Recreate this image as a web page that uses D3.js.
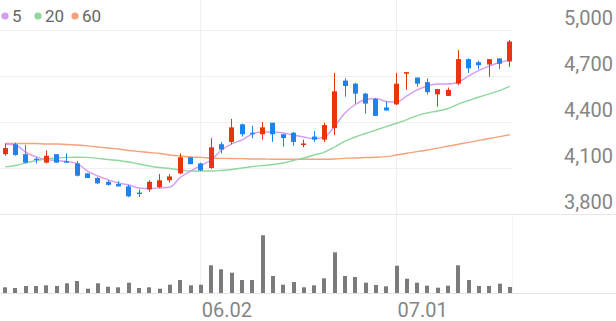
<!DOCTYPE html>
<html>
<head>
<meta charset="utf-8">
<script src="https://cdn.jsdelivr.net/npm/d3@7"></script>
<style>
  body { margin: 0; background: #fff; }
  svg { display: block; font-family: Roboto, sans-serif; }
</style>
</head>
<body>
<svg width="616" height="321"></svg>
<script>
const dates = ['05.02', '05.07', '05.08', '05.09', '05.12', '05.13', '05.14', '05.15', '05.16', '05.19',
  '05.20', '05.21', '05.22', '05.23', '05.26', '05.27', '05.28', '05.29', '05.30', '06.02',
  '06.04', '06.05', '06.09', '06.10', '06.11', '06.12', '06.13', '06.16', '06.17', '06.18',
  '06.19', '06.20', '06.23', '06.24', '06.25', '06.26', '06.27', '06.30', '07.01', '07.02',
  '07.03', '07.04', '07.07', '07.08', '07.09', '07.10', '07.11', '07.14', '07.15', '07.16']

const open = [4190, 4255, 4190, 4160, 4135, 4190, 4145, 4130, 4065, 4035,
  4010, 3995, 3980, 3940, 3960, 3975, 4020, 4065, 4170, 4130,
  4100, 4255, 4270, 4385, 4330, 4320, 4395, 4320, 4330, 4250,
  4305, 4285, 4360, 4670, 4650, 4585, 4550, 4495, 4515, 4715,
  4690, 4660, 4580, 4570, 4650, 4810, 4790, 4775, 4815, 4795]
const high = [4260, 4265, 4250, 4170, 4215, 4190, 4195, 4145, 4065, 4040,
  4020, 4015, 3990, 3960, 4020, 4060, 4060, 4195, 4170, 4135,
  4295, 4270, 4420, 4390, 4375, 4400, 4395, 4320, 4335, 4285,
  4340, 4395, 4720, 4685, 4655, 4590, 4555, 4535, 4720, 4725,
  4690, 4685, 4615, 4625, 4870, 4815, 4800, 4810, 4815, 4935]
const low = [4180, 4180, 4130, 4130, 4130, 4135, 4135, 4045, 4035, 3995,
  3985, 3980, 3910, 3910, 3945, 3970, 4005, 4060, 4125, 4080,
  4095, 4195, 4255, 4305, 4295, 4285, 4270, 4240, 4245, 4235,
  4270, 4270, 4315, 4565, 4520, 4455, 4440, 4475, 4510, 4610,
  4630, 4580, 4500, 4570, 4640, 4720, 4745, 4695, 4745, 4760]
const close = [4230, 4185, 4135, 4155, 4180, 4135, 4135, 4050, 4035, 4000,
  3990, 3980, 3915, 3930, 4010, 4020, 4045, 4170, 4125, 4085,
  4235, 4220, 4365, 4320, 4320, 4365, 4320, 4295, 4270, 4260,
  4285, 4380, 4600, 4635, 4585, 4520, 4440, 4475, 4650, 4725,
  4650, 4595, 4615, 4610, 4810, 4750, 4770, 4810, 4780, 4925]
const volume = [57, 50, 70, 70, 77, 70, 97, 120, 43, 97,
  63, 57, 103, 50, 57, 43, 83, 130, 77, 83,
  277, 237, 203, 130, 130, 577, 170, 83, 110, 57,
  77, 147, 407, 170, 160, 103, 80, 67, 273, 143,
  103, 73, 53, 73, 277, 130, 70, 70, 93, 60]

const ma5 = [4257, 4250, 4204, 4172, 4155, 4149, 4142, 4129, 4080, 4048,
  4022, 4002, 3989, 3970, 3966, 3970, 3976, 4038, 4080, 4116,
  4152, 4217, 4257, 4283, 4322, 4335, 4335, 4328, 4315, 4302,
  4292, 4302, 4374, 4459, 4514, 4547, 4553, 4534, 4530, 4570,
  4609, 4635, 4648, 4648, 4661, 4700, 4736, 4765, 4788, 4804]
const ma20 = [4107, 4116, 4133, 4149, 4159, 4165, 4169, 4170, 4169, 4163,
  4155, 4149, 4139, 4126, 4113, 4103, 4097, 4087, 4080, 4080,
  4080, 4084, 4090, 4100, 4110, 4116, 4123, 4133, 4149, 4165,
  4185, 4204, 4237, 4276, 4302, 4325, 4348, 4370, 4392, 4416,
  4442, 4459, 4472, 4488, 4517, 4540, 4563, 4583, 4605, 4632]
const ma60 = [4260, 4260, 4260, 4260, 4257, 4257, 4253, 4250, 4244, 4237,
  4230, 4224, 4214, 4208, 4201, 4195, 4185, 4178, 4172, 4169,
  4165, 4163, 4162, 4161, 4159, 4159, 4157, 4157, 4157, 4157,
  4157, 4157, 4159, 4163, 4165, 4168, 4170, 4174, 4185, 4196,
  4207, 4217, 4230, 4242, 4255, 4267, 4280, 4292, 4305, 4317]

const priceTicks = [3800, 4100, 4400, 4700, 5000]
const dateTicks = ['06.02', '07.01']
const maNames = ['5', '20', '60']
const maColors = ['#d59cef', '#8fd89d', '#f6a27b']

const upColor = '#e8350f'
const downColor = '#1e83ef'

const width = 616
const height = 321
const plotRight = 515

const svg = d3.select('svg')

const x = d3.scaleBand()
  .domain(dates)
  .range([0, plotRight])

const cx = d => x(d) + x.bandwidth() / 2

const y = d3.scaleLinear()
  .domain([3800, 5000])
  .range([214, 30])

const yVol = d3.scaleLinear()
  .domain([0, 780])
  .range([293, 215])

// grid
svg.append('g')
  .selectAll('line')
  .data(priceTicks.slice(1))
  .enter().append('line')
  .attr('x1', 0)
  .attr('x2', plotRight - 2)
  .attr('y1', d => Math.round(y(d)) + 0.5)
  .attr('y2', d => Math.round(y(d)) + 0.5)
  .attr('stroke', '#efefef')

svg.append('g')
  .selectAll('line')
  .data(dateTicks)
  .enter().append('line')
  .attr('x1', d => Math.floor(cx(d)) + 0.5)
  .attr('x2', d => Math.floor(cx(d)) + 0.5)
  .attr('y1', 0)
  .attr('y2', 293)
  .attr('stroke', '#efefef')

svg.append('line')
  .attr('x1', plotRight - 2.5).attr('x2', plotRight - 2.5)
  .attr('y1', 215).attr('y2', 293)
  .attr('stroke', '#f3f3f3')

// separator + bottom line
svg.append('line')
  .attr('x1', 0).attr('x2', width)
  .attr('y1', Math.round(y(3800)) + 0.5).attr('y2', Math.round(y(3800)) + 0.5)
  .attr('stroke', '#e6e6e6')

svg.append('line')
  .attr('x1', 0).attr('x2', width)
  .attr('y1', 293.5).attr('y2', 293.5)
  .attr('stroke', '#e3e3e3')

// volume
svg.append('g')
  .selectAll('rect')
  .data(dates)
  .enter().append('rect')
  .attr('x', d => Math.round(cx(d) - 2))
  .attr('width', 4)
  .attr('y', (d, i) => yVol(volume[i]))
  .attr('height', (d, i) => 293 - yVol(volume[i]))
  .attr('fill', '#7b7b7b')

// moving averages
const maSeries = [ma60, ma20, ma5]
const maCols = [maColors[2], maColors[1], maColors[0]]
const line = d3.line()
  .x((d, i) => cx(dates[i]))
  .y(d => y(d))
  .curve(d3.curveMonotoneX)

maSeries.forEach((s, k) => {
  svg.append('path')
    .datum(s)
    .attr('d', line)
    .attr('fill', 'none')
    .attr('stroke', maCols[k])
    .attr('stroke-width', 1.4)
})

// candles
const candle = svg.append('g')
  .selectAll('g')
  .data(dates)
  .enter().append('g')

const colorOf = i => close[i] >= open[i] ? upColor : downColor

candle.append('line')
  .attr('x1', d => Math.round(cx(d) - 2.5) + 2.5)
  .attr('x2', d => Math.round(cx(d) - 2.5) + 2.5)
  .attr('y1', (d, i) => y(high[i]))
  .attr('y2', (d, i) => y(low[i]))
  .attr('stroke', (d, i) => colorOf(i))
  .attr('stroke-width', 1)

candle.append('rect')
  .attr('x', d => Math.round(cx(d) - 2.5))
  .attr('width', 5)
  .attr('y', (d, i) => y(Math.max(open[i], close[i])))
  .attr('height', (d, i) => Math.max(1.2, Math.abs(y(open[i]) - y(close[i]))))
  .attr('fill', (d, i) => colorOf(i))

// price axis on the right
const yAxis = d3.axisRight(y)
  .tickValues(priceTicks)
  .tickFormat(d3.format(','))
  .tickSize(0)

svg.append('g')
  .attr('transform', `translate(${[613, 0]})`)
  .call(yAxis)
  .call(g => g.select('.domain').remove())
  .selectAll('text')
  .attr('x', 0)
  .attr('dy', -6)
  .attr('text-anchor', 'end')
  .attr('fill', '#858585')
  .attr('font-size', 20)
  .attr('font-family', 'Roboto, sans-serif')

// date axis
const xAxis = d3.axisBottom(x)
  .tickValues(dateTicks)
  .tickSize(0)

svg.append('g')
  .attr('transform', `translate(${[0, 293]})`)
  .call(xAxis)
  .call(g => g.select('.domain').remove())
  .selectAll('text')
  .attr('x', 1)
  .attr('y', 24)
  .attr('dy', 0)
  .attr('text-anchor', 'start')
  .attr('fill', '#858585')
  .attr('font-size', 20)
  .attr('font-family', 'Roboto, sans-serif')

// legend
const legendX = [5, 38, 75]
const legend = svg.append('g')
  .selectAll('g')
  .data(maNames)
  .enter().append('g')
  .attr('transform', (d, i) => `translate(${[legendX[i], 16]})`)

legend.append('circle')
  .attr('r', 3.6)
  .attr('fill', (d, i) => maColors[i])

legend.append('text')
  .attr('x', 7)
  .attr('y', 6)
  .attr('fill', '#666')
  .attr('font-size', 17)
  .text(d => d)
</script>
</body>
</html>
